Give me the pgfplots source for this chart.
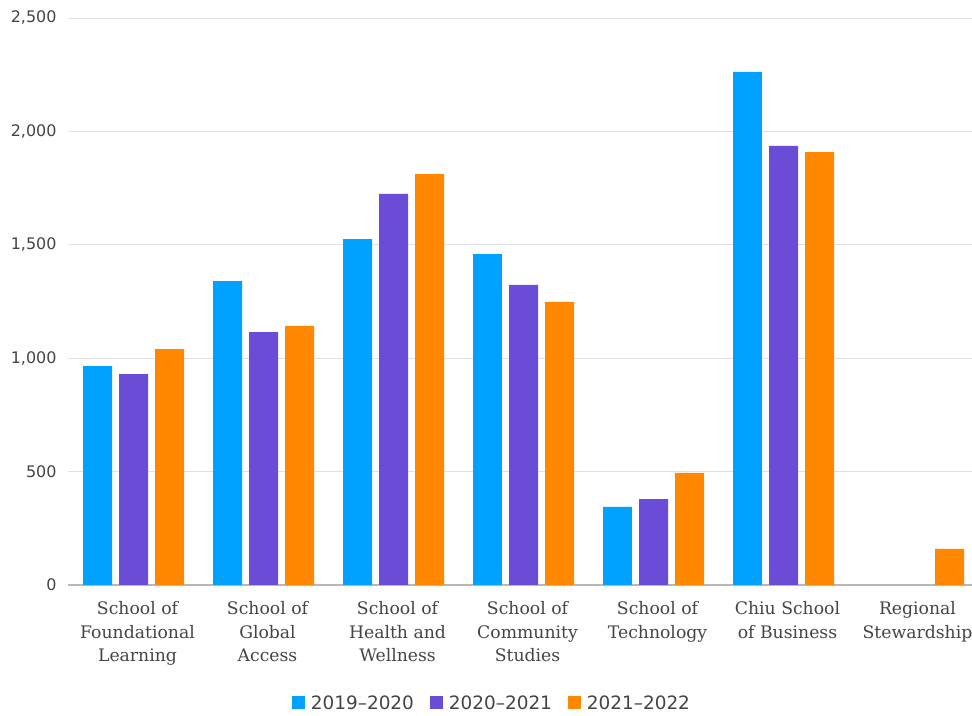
\documentclass[border=0pt]{standalone}
\usepackage{fontspec}
\setmainfont{DejaVu Sans}
\newfontfamily\catfont{DejaVu Serif}
\usepackage{pgfplots}
\pgfplotsset{compat=1.18}
\definecolor{cblue}{HTML}{00A2FF}
\definecolor{cpurple}{HTML}{6B4CD6}
\definecolor{corange}{HTML}{FF8800}
\definecolor{txt}{HTML}{444444}
\begin{document}
\begin{tikzpicture}[x=1bp,y=1bp]
\useasboundingbox (0,0) rectangle (972bp,716bp);
\begin{axis}[
  at={(68bp,131bp)}, anchor=south west,
  scale only axis,
  width=904bp, height=567bp,
  xmin=-0.504, xmax=6.45,
  ymin=0, ymax=2500,
  ytick={0,500,1000,1500,2000,2500},
  yticklabels={0,500,{1,000},{1,500},{2,000},{2,500}},
  xtick={0,1,2,3,4,5,6},
  xticklabels={{School of\\Foundational\\Learning},{School of\\Global\\Access},{School of\\Health and\\Wellness},{School of\\Community\\Studies},{School of\\Technology},{Chiu School\\of Business},{Regional\\Stewardship}},
  x tick label style={align=center, font=\catfont\fontsize{17.3}{23.5}\selectfont, text=txt, yshift=-13bp, xshift=4bp},
  y tick label style={font=\fontsize{16}{18}\selectfont, text=txt, xshift=-8bp},
  major tick length=0pt,
  axis x line*=bottom, axis y line*=left,
  x axis line style={draw=black!28, line width=1.3bp},
  y axis line style={draw=none},
  ymajorgrids, grid style={draw=black!12, line width=0.8bp},
  ybar, bar width=0.223,
  legend style={at={(0.469,-0.208)}, anchor=center, draw=none, legend columns=3,
    font=\fontsize{18.5}{20}\selectfont, text=txt,
    /tikz/every odd column/.append style={column sep=4bp},
    /tikz/every even column/.append style={column sep=14bp}},
  legend image code/.code={\fill[#1] (-2bp,-6.5bp) rectangle (11bp,6.5bp);},
]
\addplot[fill=cblue, draw=none, bar shift=-0.277] coordinates {(0,965) (1,1340) (2,1525) (3,1459) (4,344) (5,2262)};
\addplot[fill=cpurple, draw=none, bar shift=0] coordinates {(0,930) (1,1115) (2,1724) (3,1323) (4,379) (5,1936)};
\addplot[fill=corange, draw=none, bar shift=0.277] coordinates {(0,1040) (1,1142) (2,1812) (3,1248) (4,494) (5,1909) (6,159)};
\legend{2019--2020,2020--2021,2021--2022}
\end{axis}
\end{tikzpicture}
\end{document}
